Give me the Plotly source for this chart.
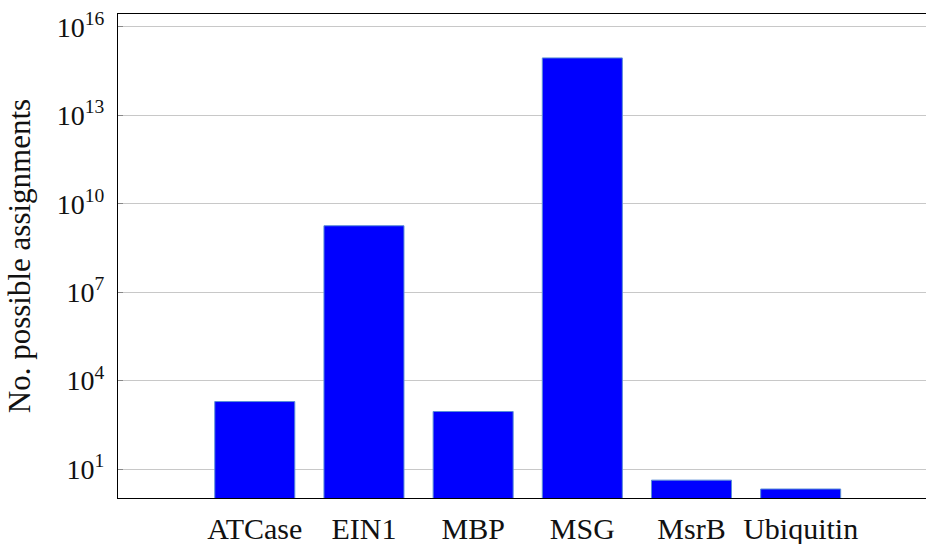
import plotly.graph_objects as go

# Proteins and the number of possible assignments for each
proteins = ["ATCase", "EIN1", "MBP", "MSG", "MsrB", "Ubiquitin"]
assignments = [1950, 1.8e9, 895, 8.9e14, 4.2, 2.1]

# Log-scale ticks every three decades
tick_exponents = [1, 4, 7, 10, 13, 16]
tick_values = [10 ** e for e in tick_exponents]
tick_labels = [f"10<sup>{e}</sup>" for e in tick_exponents]

FONT = "Liberation Serif"

fig = go.Figure(
    go.Bar(
        x=proteins,
        y=assignments,
        width=0.733,
        marker=dict(color="#0000ff", line=dict(color="#5b8fd6", width=1)),
    )
)

fig.update_layout(
    width=926,
    height=544,
    margin=dict(l=118, r=0, t=14, b=46),
    paper_bgcolor="white",
    plot_bgcolor="white",
    font=dict(family=FONT, size=28, color="#111"),
    showlegend=False,
)

fig.update_xaxes(
    type="category",
    range=[-1.253, 6.148],
    showline=True,
    linecolor="black",
    linewidth=1.2,
    mirror=True,
    showgrid=False,
    ticks="",
    ticklabelstandoff=4,
    tickfont=dict(family=FONT, size=30, color="#111"),
)

fig.update_yaxes(
    type="log",
    range=[0.017, 16.44],
    tickvals=tick_values,
    ticktext=tick_labels,
    showline=True,
    linecolor="black",
    linewidth=1.2,
    showgrid=True,
    gridcolor="#c8c8c8",
    gridwidth=1,
    ticks="inside",
    ticklen=5,
    tickcolor="#888",
    tickfont=dict(family=FONT, size=28, color="#111"),
    ticklabelstandoff=7,
    zeroline=False,
    title=dict(
        text="No. possible assignments",
        font=dict(family=FONT, size=31, color="#111"),
        standoff=16,
    ),
)

fig.write_html("out.html")
